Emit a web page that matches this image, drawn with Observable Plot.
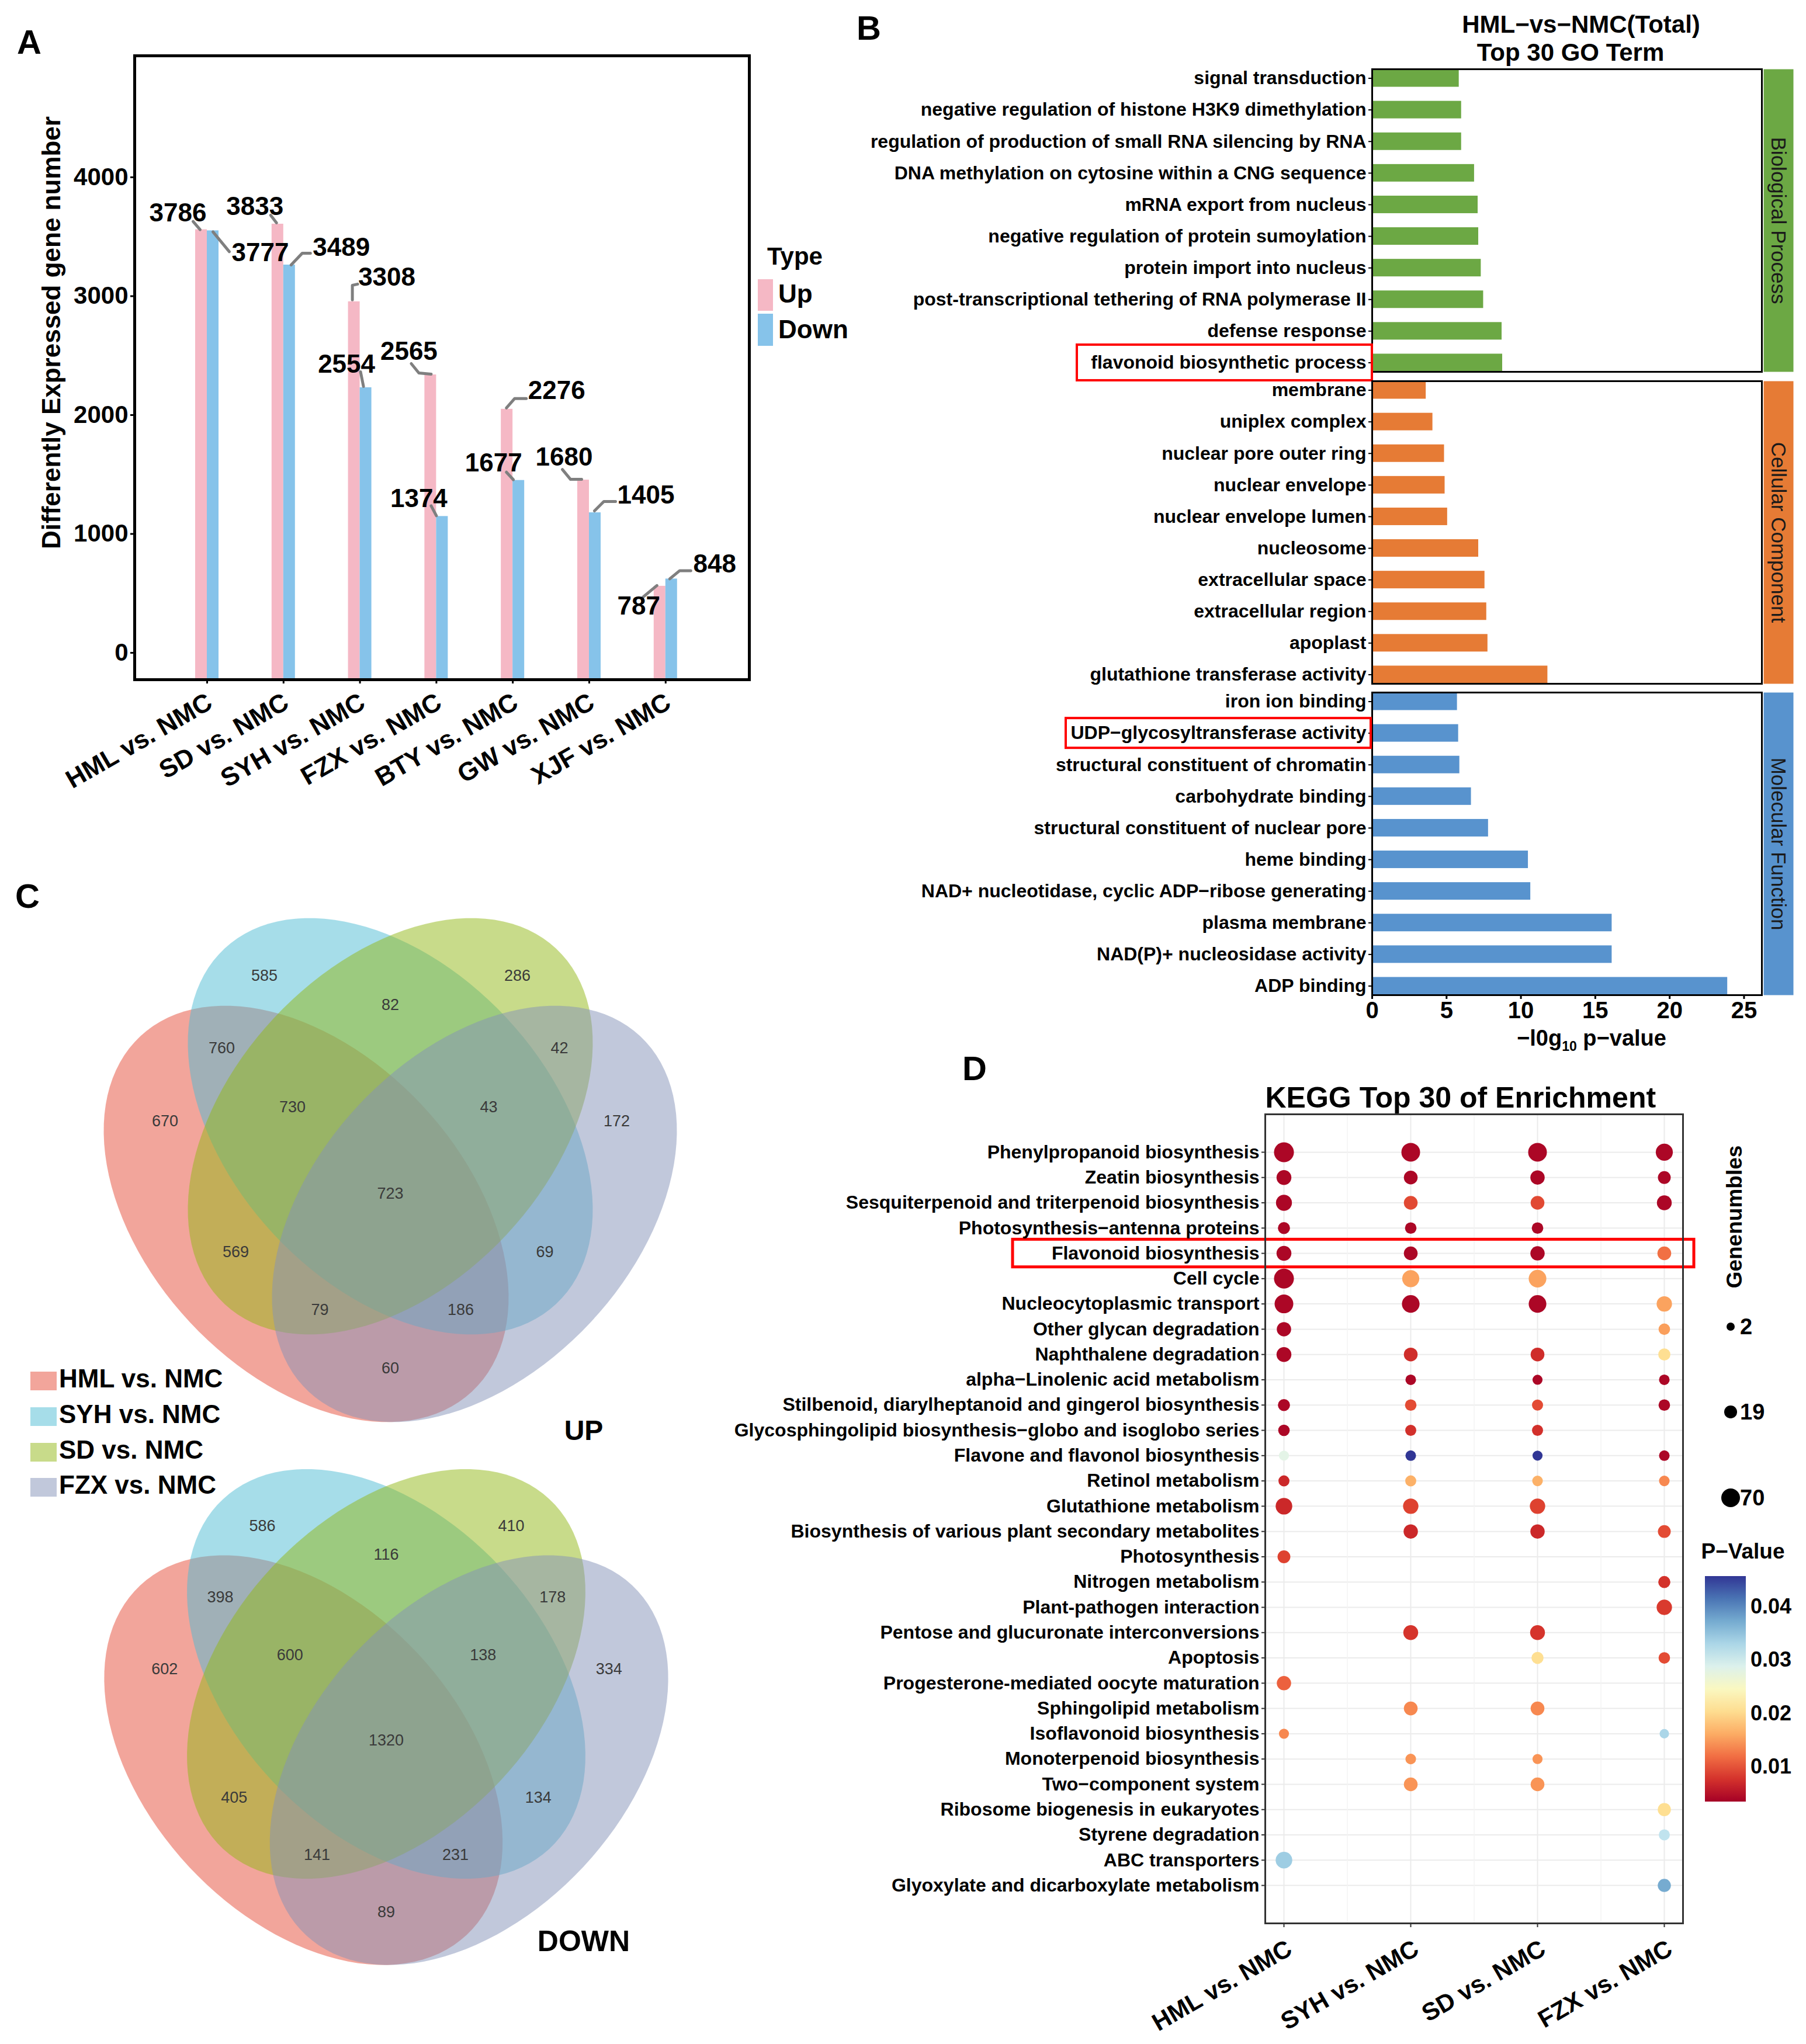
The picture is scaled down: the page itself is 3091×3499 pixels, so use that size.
<!DOCTYPE html>
<html>
<head>
<meta charset="utf-8">
<script src="https://cdn.jsdelivr.net/npm/d3@7"></script>
<script src="https://cdn.jsdelivr.net/npm/@observablehq/plot@0.6"></script>
<style>
html,body{margin:0;padding:0;background:#fff;}
#page{position:relative;width:3091px;height:3499px;background:#fff;font-family:"Liberation Sans",Arial,Helvetica,sans-serif;overflow:hidden;color:#000;}
.lbl{position:absolute;white-space:nowrap;line-height:1;}
.sw{position:absolute;}
</style>
</head>
<body>
<div id="page"></div>
<script>
// ================= DATA =================
// Panel A
const comparisonsA = ["HML vs. NMC","SD vs. NMC","SYH vs. NMC","FZX vs. NMC","BTY vs. NMC","GW vs. NMC","XJF vs. NMC"];
const upLabels   = [3786, 3833, 3308, 2565, 2276, 1680, 787];
const downLabels = [3777, 3489, 2554, 1374, 1677, 1405, 848];
const upBars     = [3786, 3833, 3180, 2565, 2276, 1680, 787];   // heights as drawn
const downBars   = [3777, 3489, 2457, 1374, 1677, 1405, 848];
const yTickLabelsA = [0, 1000, 2000, 3000, 4000];
const axisOffsetA = 226;          // bars start below the "0" tick
const typeNames = ["Up", "Down"];
const typeColors = ["#F5B8C5", "#86C3EA"];

// Panel B
const goCategories = ["Biological Process", "Cellular Component", "Molecular Function"];
const goColors = ["#6CA844", "#E67B35", "#5893CE"];
const bpTerms = ["signal transduction","negative regulation of histone H3K9 dimethylation","regulation of production of small RNA silencing by RNA","DNA methylation on cytosine within a CNG sequence","mRNA export from nucleus","negative regulation of protein sumoylation","protein import into nucleus","post-transcriptional tethering of RNA polymerase II","defense response","flavonoid biosynthetic process"];
const bpValues = [5.84, 6.0, 6.0, 6.87, 7.11, 7.15, 7.32, 7.48, 8.72, 8.76];
const ccTerms = ["membrane","uniplex complex","nuclear pore outer ring","nuclear envelope","nuclear envelope lumen","nucleosome","extracellular space","extracellular region","apoplast","glutathione transferase activity"];
const ccValues = [3.62, 4.07, 4.85, 4.89, 5.06, 7.15, 7.57, 7.69, 7.77, 11.8];
const mfTerms = ["iron ion binding","UDP\u2212glycosyltransferase activity","structural constituent of chromatin","carbohydrate binding","structural constituent of nuclear pore","heme binding","NAD+ nucleotidase, cyclic ADP\u2212ribose generating","plasma membrane","NAD(P)+ nucleosidase activity","ADP binding"];
const mfValues = [5.72, 5.80, 5.88, 6.66, 7.81, 10.49, 10.65, 16.12, 16.12, 23.89];
const goXTicks = [0, 5, 10, 15, 20, 25];
const goHighlights = ["flavonoid biosynthetic process", "UDP\u2212glycosyltransferase activity"];

// Panel C
const vennSets = ["HML vs. NMC", "SYH vs. NMC", "SD vs. NMC", "FZX vs. NMC"];
const vennColors = ["#E54B37", "#4DBBD3", "#91B715", "#8391B7"];
const vennRegions = ["SYH","SD","SYH&SD","HML&SYH","SD&FZX","HML&SYH&SD","SYH&SD&FZX","HML","FZX","HML&SYH&SD&FZX","HML&SD","SYH&FZX","HML&SD&FZX","HML&SYH&FZX","HML&FZX"];
const upCounts   = [585, 286, 82, 760, 42, 730, 43, 670, 172, 723, 569, 69, 79, 186, 60];
const downCounts = [586, 410, 116, 398, 178, 600, 138, 602, 334, 1320, 405, 134, 141, 231, 89];

// Panel D
const keggGroups = ["HML vs. NMC", "SYH vs. NMC", "SD vs. NMC", "FZX vs. NMC"];
const keggTerms = ["Phenylpropanoid biosynthesis","Zeatin biosynthesis","Sesquiterpenoid and triterpenoid biosynthesis","Photosynthesis\u2212antenna proteins","Flavonoid biosynthesis","Cell cycle","Nucleocytoplasmic transport","Other glycan degradation","Naphthalene degradation","alpha\u2212Linolenic acid metabolism","Stilbenoid, diarylheptanoid and gingerol biosynthesis","Glycosphingolipid biosynthesis\u2212globo and isoglobo series","Flavone and flavonol biosynthesis","Retinol metabolism","Glutathione metabolism","Biosynthesis of various plant secondary metabolites","Photosynthesis","Nitrogen metabolism","Plant-pathogen interaction","Pentose and glucuronate interconversions","Apoptosis","Progesterone-mediated oocyte maturation","Sphingolipid metabolism","Isoflavonoid biosynthesis","Monoterpenoid biosynthesis","Two\u2212component system","Ribosome biogenesis in eukaryotes","Styrene degradation","ABC transporters","Glyoxylate and dicarboxylate metabolism"];
const keggGenes = [
  [84,70,70,53],[34,26,30,20],[43,26,26,34],[16,13,13,null],[34,26,30,26],
  [84,53,59,null],[70,59,59,38],[30,null,null,13],[34,26,26,16],[null,9,7,9],
  [16,13,11,13],[13,11,11,null],[7,9,7,9],[11,11,9,9],[49,38,38,null],
  [null,30,30,20],[20,null,null,null],[null,null,null,16],[null,null,null,38],[null,34,34,null],
  [null,null,16,13],[30,null,null,null],[null,26,26,null],[7,null,null,5],[null,9,7,null],
  [null,26,26,null],[null,null,null,22],[null,null,null,11],[49,null,null,null],[null,null,null,22]
];
const keggP = [
  [.004,.004,.004,.004],[.004,.004,.004,.004],[.004,.0093,.0093,.004],[.004,.004,.004,null],[.004,.004,.004,.012],
  [.004,.0155,.0155,null],[.004,.004,.004,.0155],[.004,null,null,.0152],[.004,.0072,.0072,.0205],[null,.004,.004,.004],
  [.004,.0095,.0095,.004],[.004,.0075,.0075,null],[.028,.0457,.0457,.004],[.0068,.0165,.0165,.0136],[.0068,.0088,.0088,null],
  [null,.0068,.0068,.0095],[.0088,null,null,null],[null,null,null,.0076],[null,null,null,.0082],[null,.0078,.0078,null],
  [null,null,.0205,.0095],[.011,null,null,null],[null,.0136,.0136,null],[.0136,null,null,.033],[null,.0144,.0144,null],
  [null,.0144,.0144,null],[null,null,null,.0205],[null,null,null,.0313],[.034,null,null,null],[null,null,null,.0372]
];
const keggHighlight = ["Flavonoid biosynthesis"];
const pDomain = [0.0034, 0.0457];
const pTicks = [0.01, 0.02, 0.03, 0.04];
const geneLegend = [2, 19, 70];

// ================= LAYOUT (pixel offsets, not data) =================
const upLabelOffset   = [[-40,-28],[-39,-30],[56,-41],[-37,-40],[85,-31],[-33,-39],[-36,35]];
const downLabelOffset = [[81,38],[89,-30],[-33,-40],[-40,-30],[-43,-29],[87,-30],[74,-25]];
const upConnector = [
  [[-14,-14],[-2,0]], [[-12,-15],[-2,-2]], [[-3,-3],[-3,-28],[6,-30]],
  [[-33,-19],[-20,-3],[1,-1]], [[-1,-2],[13,-18],[33,-18]], [[-36,-18],[-22,-1],[-3,-1]], [[-29,19],[-5,-1]]
];
const downConnector = [
  [[0,2],[28,36]], [[3,0],[22,-20],[36,-20]], [[-9,-27],[-4,-2]],
  [[-19,-18],[-10,-1]], [[-21,-14],[-9,-1]], [[-1,-3],[15,-19],[35,-19]], [[-3,0],[14,-14],[33,-14]]
];
const vennRegionPos = [[-215.5,-257.5],[217.5,-257.5],[0,-207.5],[-288.5,-133.5],[289.5,-133.5],[-167.5,-32.5],[168.5,-32.5],[-385.5,-8.5],[387.5,-8.5],[0,115.5],[-264.5,215.5],[264.5,215.5],[-120.5,314.5],[120.5,314.5],[0,414.5]];
const vennEllipses = [{dx:-144,dy:150,angle:47},{dx:0,dy:0,angle:47},{dx:0,dy:0,angle:-47},{dx:144,dy:150,angle:-47}];

// ================= HELPERS =================
const FONT = '"Liberation Sans", Arial, Helvetica, sans-serif';
const page = document.getElementById("page");
const baseStyle = {fontFamily: FONT, background: "transparent", overflow: "visible", color: "#000"};
function place(el, left, top, w, h) {
  const wrap = document.createElement("div");
  wrap.style.cssText = `position:absolute;left:${left}px;top:${top}px;width:${w}px;height:${h}px;`;
  el.style.maxWidth = "none";
  wrap.appendChild(el);
  page.appendChild(wrap);
}
function addText(str, x, y, o = {}) {
  const d = document.createElement("div");
  d.className = "lbl";
  const size = o.size || 40;
  d.style.fontSize = size + "px";
  d.style.fontWeight = o.weight || "bold";
  d.style.color = o.color || "#000";
  d.style.left = x + "px";
  d.style.top = y + "px";
  const tx = o.anchor === "start" ? "0" : o.anchor === "end" ? "-100%" : "-50%";
  d.style.transformOrigin = "0 0";
  d.style.transform = (o.rotate ? `rotate(${o.rotate}deg) ` : "") + `translate(${tx},-50%)`;
  if (o.html) d.innerHTML = str; else d.textContent = str;
  page.appendChild(d);
  return d;
}
function addBox(x, y, w, h, color, extra = "") {
  const d = document.createElement("div");
  d.className = "sw";
  d.style.cssText = `left:${x}px;top:${y}px;width:${w}px;height:${h}px;background:${color};${extra}`;
  page.appendChild(d);
  return d;
}

// ================= PANEL A =================
{
  const A = {left: 230, right: 1282, top: 95, bottom: 1163, w: 1480, h: 1420};
  const xDom = [-0.948, 7.095];
  const yMax = 5248;
  const pxX = (A.right - A.left) / (xDom[1] - xDom[0]);
  const pxY = (A.bottom - A.top) / yMax;
  const barW = 20 / pxX;
  const rows = comparisonsA.map((name, i) => ({i, name, up: upBars[i], down: downBars[i]}));
  const labels = [], conn = [];
  rows.forEach(r => {
    [["up", upBars, upLabels, upLabelOffset, upConnector, -barW / 2],
     ["down", downBars, downLabels, downLabelOffset, downConnector, barW / 2]].forEach(([t, bars, labs, offs, cons, side]) => {
      const v = bars[r.i], xc = r.i + side;
      labels.push({x: xc + offs[r.i][0] / pxX, y: v - offs[r.i][1] / pxY, text: String(labs[r.i])});
      cons[r.i].forEach(([dx, dy]) => conn.push({id: t + r.i, x: xc + dx / pxX, y: v - dy / pxY}));
    });
  });
  const tickIdx = comparisonsA.map((_, i) => i);
  const plotA = Plot.plot({
    width: A.w, height: A.h,
    marginLeft: A.left, marginRight: A.w - A.right, marginTop: A.top, marginBottom: A.h - A.bottom,
    x: {domain: xDom}, y: {domain: [0, yMax]},
    style: baseStyle,
    marks: [
      Plot.rect(rows, {x1: d => d.i - barW, x2: d => d.i, y1: 0, y2: "up", fill: typeColors[0]}),
      Plot.rect(rows, {x1: d => d.i, x2: d => d.i + barW, y1: 0, y2: "down", fill: typeColors[1]}),
      Plot.line(conn, {x: "x", y: "y", z: "id", stroke: "#7F7F7F", strokeWidth: 5, strokeLinecap: "round", strokeLinejoin: "round"}),
      Plot.text(labels, {x: "x", y: "y", text: "text", fontSize: 44, fontWeight: "bold", fill: "#000"}),
      Plot.frame({stroke: "#000", strokeWidth: 5}),
      Plot.axisY({ticks: yTickLabelsA.map(v => v + axisOffsetA), tickFormat: d => String(d - axisOffsetA), tickSize: 7, tickPadding: 4, fontSize: 42, fontWeight: "bold", strokeWidth: 3, label: null}),
      Plot.axisX({ticks: tickIdx, tickFormat: () => "", tickSize: 7, strokeWidth: 3, label: null}),
      Plot.axisX({ticks: tickIdx, tickFormat: i => comparisonsA[i], tickRotate: -30, tickSize: 0, tickPadding: 35, dx: 5, fontSize: 44, fontWeight: "bold", label: null}),
      Plot.text(["Differently Expressed gene number"], {text: d => d, frameAnchor: "left", textAnchor: "middle", lineAnchor: "middle", dx: 88 - A.left, dy: 569 - (A.top + A.bottom) / 2, rotate: -90, fontSize: 44, fontWeight: "bold"})
    ]
  });
  place(plotA, 0, 0, A.w, A.h);
  addText("Type", 1313, 439, {size: 42, anchor: "start"});
  addBox(1297, 478, 26, 54, typeColors[0]);
  addBox(1297, 537, 26, 55, typeColors[1]);
  addText(typeNames[0], 1332, 503, {size: 44, anchor: "start"});
  addText(typeNames[1], 1332, 564, {size: 44, anchor: "start"});
  addText("A", 50, 72, {size: 58});
}

// ================= PANEL B =================
{
  const B = {svgLeft: 1450, left: 2348, right: 3015, fh: 518};
  const facetTops = [118, 652, 1185];
  const facets = [
    {name: goCategories[0], terms: bpTerms, values: bpValues, color: goColors[0]},
    {name: goCategories[1], terms: ccTerms, values: ccValues, color: goColors[1]},
    {name: goCategories[2], terms: mfTerms, values: mfValues, color: goColors[2]}
  ];
  const boxes = {
    "flavonoid biosynthetic process": {left: 1843, right: 2348, h: 61},
    "UDP\u2212glycosyltransferase activity": {left: 1824, right: 2346, h: 51}
  };
  const bw = 30;
  facets.forEach((f, k) => {
    const mt = 30, mb = k === 2 ? 150 : 12;
    const H = mt + B.fh + mb;
    const W = 3091 - B.svgLeft;
    const rows = f.terms.map((t, i) => ({term: t, value: f.values[i]}));
    const marks = [
      Plot.barX(rows, {x: "value", y: "term", fill: f.color}),
      Plot.frame({stroke: "#000", strokeWidth: 3}),
      Plot.frame({fill: f.color, stroke: "none", insetLeft: (B.right - B.left) + 3, insetRight: -54}),
      Plot.text([f.name], {text: d => d, frameAnchor: "right", textAnchor: "middle", lineAnchor: "middle", dx: 28, rotate: 90, fontSize: 35, fill: "#1a1a1a"}),
      Plot.axisY({tickSize: 6, tickPadding: 4, fontSize: 32, fontWeight: "bold", strokeWidth: 2, label: null})
    ];
    goHighlights.filter(t => f.terms.includes(t)).forEach(t => {
      const b = boxes[t];
      marks.push(Plot.cell([t], {y: d => d, fill: "none", stroke: "#FF0000", strokeWidth: 4,
        insetLeft: b.left - B.left, insetRight: B.right - b.right, insetTop: (bw - b.h) / 2, insetBottom: (bw - b.h) / 2}));
    });
    if (k === 2) marks.push(Plot.axisX({ticks: goXTicks, tickSize: 7, tickPadding: 4, fontSize: 40, fontWeight: "bold", strokeWidth: 3, label: null}));
    const step = (B.fh + 23) / 10;
    const pi = 1 - bw / step;
    const p = Plot.plot({
      width: W, height: H,
      marginLeft: B.left - B.svgLeft, marginRight: 3091 - B.right, marginTop: mt, marginBottom: mb,
      x: {domain: [0, 26.2], axis: null},
      y: {type: "band", domain: f.terms, range: [mt - 11.5, mt + B.fh + 11.5], paddingInner: pi, paddingOuter: pi / 2, align: 0.5, round: false, axis: null},
      style: baseStyle,
      marks
    });
    place(p, B.svgLeft, facetTops[k] - mt, W, H);
  });
  addText("HML\u2212vs\u2212NMC(Total)", 2706, 42, {size: 42});
  addText("Top 30 GO Term", 2688, 90, {size: 42});
  addText('\u2212l0g<span style="font-size:23px;position:relative;top:9px;">10</span> p\u2212value', 2724, 1777, {size: 38, html: true});
  addText("B", 1487, 48, {size: 58});
}

// ================= PANEL C =================
{
  const C = {svgTop: 1480, w: 1300, h: 3499 - 1480};
  const diagrams = [
    {name: "UP", cx: 667.5, cy: 1927.5, s: 1, counts: upCounts},
    {name: "DOWN", cx: 660.5, cy: 2865, s: 0.984, counts: downCounts}
  ];
  const ea = 416, eb = 272;
  const marks = [];
  diagrams.forEach(dg => {
    vennEllipses.forEach((e, k) => {
      const phi = e.angle * Math.PI / 180;
      const pts = d3.range(0, 360, 3).map(deg => {
        const t = deg * Math.PI / 180;
        return {
          x: dg.cx + dg.s * (e.dx + ea * Math.cos(phi) * Math.cos(t) - eb * Math.sin(phi) * Math.sin(t)),
          y: dg.cy + dg.s * (e.dy + ea * Math.sin(phi) * Math.cos(t) + eb * Math.cos(phi) * Math.sin(t))
        };
      });
      marks.push(Plot.line(pts, {x: "x", y: "y", curve: "linear-closed", fill: vennColors[k], fillOpacity: 0.5, stroke: "none"}));
    });
  });
  diagrams.forEach(dg => {
    const rows = vennRegions.map((r, i) => ({x: dg.cx + dg.s * vennRegionPos[i][0], y: dg.cy + dg.s * vennRegionPos[i][1], text: String(dg.counts[i])}));
    marks.push(Plot.text(rows, {x: "x", y: "y", text: "text", fontSize: 27, fill: "#3a3a3a"}));
  });
  const pc = Plot.plot({
    width: C.w, height: C.h, margin: 0,
    x: {domain: [0, C.w], range: [0, C.w], axis: null},
    y: {domain: [C.svgTop, 3499], range: [0, C.h], axis: null},
    style: baseStyle,
    marks
  });
  place(pc, 0, C.svgTop, C.w, C.h);
  const legY = [2364, 2425, 2486, 2546];
  vennSets.forEach((s, i) => {
    addBox(52, legY[i] - 16, 45, 32, vennColors[i], "opacity:0.5;");
    addText(s, 101, legY[i] - 4, {size: 44, anchor: "start"});
  });
  addText("UP", 999, 2449, {size: 48});
  addText("DOWN", 999, 3323, {size: 50});
  addText("C", 47, 1534, {size: 58});
}

// ================= PANEL D =================
{
  const D = {svgLeft: 1250, svgTop: 1840, left: 2165, right: 2880, top: 1907, bottom: 3292};
  const W = 3091 - D.svgLeft, H = 3499 - D.svgTop;
  const dots = [];
  keggTerms.forEach((t, i) => keggGroups.forEach((g, j) => {
    if (keggGenes[i][j] != null) dots.push({term: t, group: g, genes: keggGenes[i][j], p: keggP[i][j]});
  }));
  const colStep = 217;
  const firstCol = D.left + 32;
  const rDomain = [2, 70], rRange = [7, 16];
  const pd = Plot.plot({
    width: W, height: H,
    marginLeft: D.left - D.svgLeft, marginRight: 3091 - D.right, marginTop: D.top - D.svgTop, marginBottom: 3499 - D.bottom,
    x: {type: "band", domain: keggGroups, range: [firstCol - colStep / 2 - D.svgLeft, firstCol + colStep * 3.5 - D.svgLeft], padding: 0, round: false, axis: null},
    y: {type: "band", domain: keggTerms, range: [D.top - D.svgTop, D.bottom - D.svgTop], paddingInner: 0, paddingOuter: 1, round: false, axis: null},
    r: {type: "sqrt", domain: rDomain, range: rRange},
    color: {type: "linear", scheme: "RdYlBu", domain: pDomain},
    style: baseStyle,
    marks: [
      Plot.gridY({stroke: "#EBEBEB", strokeOpacity: 1, strokeWidth: 2}),
      Plot.ruleX(keggGroups.slice(1), {x: d => d, dx: -colStep / 2, stroke: "#F3F3F3", strokeWidth: 1.5}),
      Plot.gridX({stroke: "#EBEBEB", strokeOpacity: 1, strokeWidth: 2}),
      Plot.dot(dots, {x: "group", y: "term", r: "genes", fill: "p"}),
      Plot.cell(keggHighlight, {y: d => d, fill: "none", stroke: "#FF0000", strokeWidth: 5, insetLeft: 1733 - D.left, insetRight: D.right - 2899, insetTop: -2, insetBottom: -2}),
      Plot.frame({stroke: "#333", strokeWidth: 3}),
      Plot.axisY({tickSize: 6, tickPadding: 4, fontSize: 32, fontWeight: "bold", stroke: "#333", strokeWidth: 2, label: null}),
      Plot.axisX({tickFormat: () => "", tickSize: 7, stroke: "#333", strokeWidth: 2, label: null}),
      Plot.axisX({tickRotate: -30, tickSize: 0, tickPadding: 40, dx: 10, fontSize: 42, fontWeight: "bold", label: null}),
      Plot.text(["KEGG Top 30 of Enrichment"], {text: d => d, frameAnchor: "top-left", textAnchor: "start", lineAnchor: "middle", dy: -28, fontSize: 50, fontWeight: "bold"})
    ]
  });
  place(pd, D.svgLeft, D.svgTop, W, H);
  addText("D", 1668, 1829, {size: 58});
  const rs = d3.scaleSqrt().domain(rDomain).range(rRange);
  addText("Genenumbles", 2968, 2083, {size: 37, rotate: -90});
  const sizeY = [2271, 2417, 2564];
  geneLegend.forEach((g, i) => {
    const r = rs(g);
    addBox(2962 - r, sizeY[i] - r, 2 * r, 2 * r, "#000", "border-radius:50%;");
    addText(String(g), 2978, sizeY[i], {size: 38, anchor: "start"});
  });
  addText("P\u2212Value", 2983, 2655, {size: 37});
  const cbTop = 2698, cbBottom = 3084;
  const stops = d3.range(0, 1.0001, 0.1).map(t => `${d3.interpolateRdYlBu(t)} ${(t * 100).toFixed(0)}%`).join(",");
  addBox(2918, cbTop, 70, cbBottom - cbTop, `linear-gradient(to top, ${stops})`);
  pTicks.forEach(v => {
    const y = cbBottom - (v - pDomain[0]) / (pDomain[1] - pDomain[0]) * (cbBottom - cbTop);
    addText(String(v), 2996, y, {size: 36, anchor: "start"});
  });
}
</script>
</body>
</html>
